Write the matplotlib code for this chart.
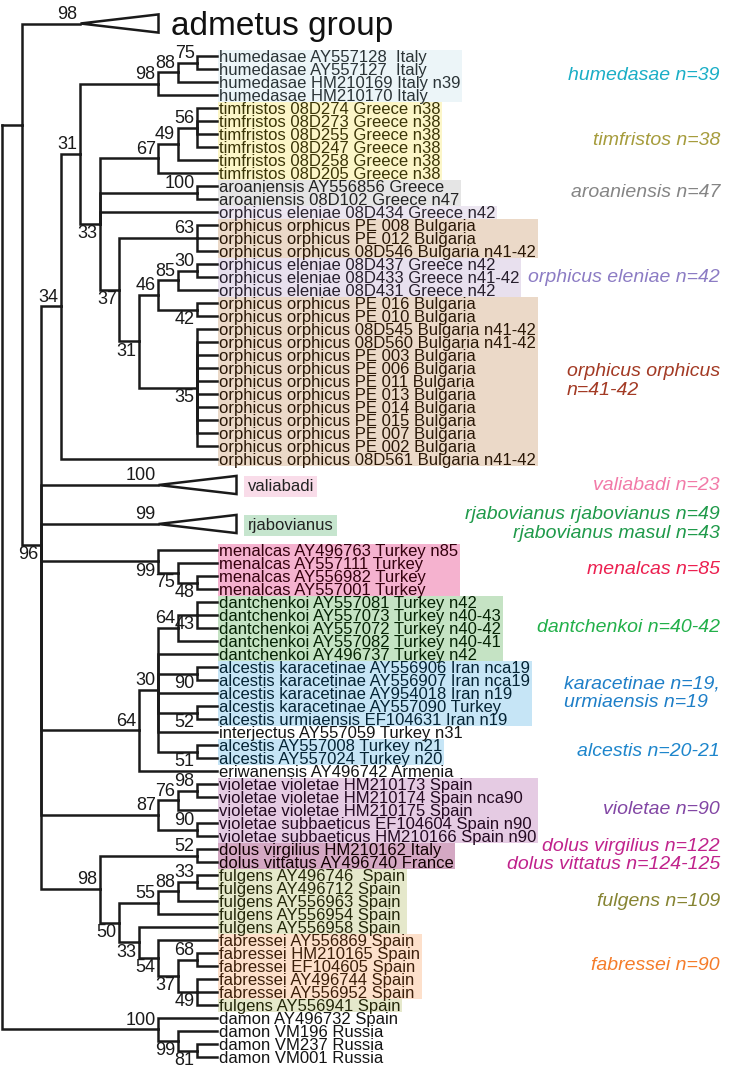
import re
import numpy as np
import matplotlib.pyplot as plt
import matplotlib.colors as mcolors
from matplotlib.patches import Rectangle, Polygon

plt.rcParams['font.family'] = ['Liberation Sans', 'DejaVu Sans']

# ---- data -------------------------------------------------------------
tips = [
    "admetus group",
    "humedasae AY557128  Italy", "humedasae AY557127  Italy",
    "humedasae HM210169 Italy n39", "humedasae HM210170 Italy",
    "timfristos 08D274 Greece n38", "timfristos 08D273 Greece n38",
    "timfristos 08D255 Greece n38", "timfristos 08D247 Greece n38",
    "timfristos 08D258 Greece n38", "timfristos 08D205 Greece n38",
    "aroaniensis AY556856 Greece", "aroaniensis 08D102 Greece n47",
    "orphicus eleniae 08D434 Greece n42",
    "orphicus orphicus PE 008 Bulgaria", "orphicus orphicus PE 012 Bulgaria",
    "orphicus orphicus 08D546 Bulgaria n41-42",
    "orphicus eleniae 08D437 Greece n42", "orphicus eleniae 08D433 Greece n41-42",
    "orphicus eleniae 08D431 Greece n42",
    "orphicus orphicus PE 016 Bulgaria", "orphicus orphicus PE 010 Bulgaria",
    "orphicus orphicus 08D545 Bulgaria n41-42", "orphicus orphicus 08D560 Bulgaria n41-42",
    "orphicus orphicus PE 003 Bulgaria", "orphicus orphicus PE 006 Bulgaria",
    "orphicus orphicus PE 011 Bulgaria", "orphicus orphicus PE 013 Bulgaria",
    "orphicus orphicus PE 014 Bulgaria", "orphicus orphicus PE 015 Bulgaria",
    "orphicus orphicus PE 007 Bulgaria", "orphicus orphicus PE 002 Bulgaria",
    "orphicus orphicus 08D561 Bulgaria n41-42",
    "valiabadi", "rjabovianus",
    "menalcas AY496763 Turkey n85", "menalcas AY557111 Turkey",
    "menalcas AY556982 Turkey", "menalcas AY557001 Turkey",
    "dantchenkoi AY557081 Turkey n42", "dantchenkoi AY557073 Turkey n40-43",
    "dantchenkoi AY557072 Turkey n40-42", "dantchenkoi AY557082 Turkey n40-41",
    "dantchenkoi AY496737 Turkey n42",
    "alcestis karacetinae AY556906 Iran nca19", "alcestis karacetinae AY556907 Iran nca19",
    "alcestis karacetinae AY954018 Iran n19", "alcestis karacetinae AY557090 Turkey",
    "alcestis urmiaensis EF104631 Iran n19",
    "interjectus AY557059 Turkey n31",
    "alcestis AY557008 Turkey n21", "alcestis AY557024 Turkey n20",
    "eriwanensis AY496742 Armenia",
    "violetae violetae HM210173 Spain", "violetae violetae HM210174 Spain nca90",
    "violetae violetae HM210175 Spain", "violetae subbaeticus EF104604 Spain n90",
    "violetae subbaeticus HM210166 Spain n90",
    "dolus virgilius HM210162 Italy", "dolus vittatus AY496740 France",
    "fulgens AY496746  Spain", "fulgens AY496712 Spain", "fulgens AY556963 Spain",
    "fulgens AY556954 Spain", "fulgens AY556958 Spain",
    "fabressei AY556869 Spain", "fabressei HM210165 Spain", "fabressei EF104605 Spain",
    "fabressei AY496744 Spain", "fabressei AY556952 Spain",
    "fulgens AY556941 Spain",
    "damon AY496732 Spain", "damon VM196 Russia", "damon VM237 Russia", "damon VM001 Russia",
]

# tree pieces, numbers after ")" are bootstrap supports, bare numbers are tip indexes
humedasae = "(((1,2)75,3)88,4)98"
timfristos = "(((5,6,7,8)56,9)49,10)67"
orphicus = ("((14,15,16)63,((((17,18)30,19)85,(20,21)42)46,"
            "(22,23,24,25,26,27,28,29,30,31)35)31)37")
greek = "(" + timfristos + ",(11,12)100,13," + orphicus + ")33"
clade34 = "((" + humedasae + "," + greek + ")31,32)34"
menalcas = "(35,(36,(37,38)48)75)99"
alcestis = "((((39,40,41)43,42)64,43,(44,45)90,46,(47,48)52,49,(50,51)51)30,52)64"
violetae = "(((53,54)98,55)76,(56,57)90)87"
spanish = "((58,59)52,((((60,61)33,62)88,63)55,(64,(65,((66,67)68,(68,69,70)49)37)54)33)50)98"
damon = "(71,(72,(73,74)81)99)100"
newick = ("((0,(" + ",".join([clade34, "33", "34", menalcas, alcestis, violetae, spanish])
          + ")96)," + damon + ")")

# collapsed clades: tip index -> support, depth of clade, rows taken
collapsed = {0: (98, 7, 4), 33: (100, 3, 3), 34: (99, 3, 3)}

# two deep nodes are drawn off-centre in the figure: (support, first tip) -> tip row they join at
node_row = {('', 0): 9.3, ('96', 1): 41.6}

# supports printed under the branch: (support, first tip of node)
below = {(33, 5), (37, 14), (31, 17), (42, 20), (35, 22), (96, 1), (99, 35), (75, 36),
         (48, 37), (43, 39), (90, 44), (52, 47), (51, 50), (50, 60), (33, 64), (54, 65),
         (37, 66), (49, 68), (99, 72), (81, 73)}

# shaded tip groups: first tip, last tip, colour
shades = [(1, 4, '#ecf5f8'), (5, 10, '#fcf6c8'), (11, 12, '#e5e5e5'), (13, 13, '#ece6f1'),
          (14, 16, '#ebd9c8'), (17, 19, '#e8e0ee'), (20, 32, '#ebd9c8'),
          (35, 38, '#f5b2cf'), (39, 43, '#c5e3c4'), (44, 48, '#c6e5f6'), (50, 51, '#c6e5f6'),
          (53, 57, '#e5cbe3'), (58, 59, '#d4a8c3'), (60, 64, '#e5e8cb'),
          (65, 69, '#fde0cb'), (70, 70, '#e5e8cb')]
collapsed_box = {33: '#f9dce9', 34: '#c6e5ce'}

# chromosome number notes: text, tips it sits beside, colour
notes = [
    ("humedasae n=39", [1, 4], '#1aaec6'),
    ("timfristos n=38", [5, 10], '#a69c3c'),
    ("aroaniensis n=47", [11, 12], '#858585'),
    ("orphicus eleniae n=42", [17, 19], '#8c7cc4'),
    ("orphicus orphicus\nn=41-42", [20, 32], '#a33a24'),
    ("valiabadi n=23", [33], '#f27aa8'),
    ("rjabovianus rjabovianus n=49\nrjabovianus masul n=43", [34], '#1f9a4a'),
    ("menalcas n=85", [35, 38], '#ec2050'),
    ("dantchenkoi n=40-42", [39, 43], '#22b04a'),
    ("karacetinae n=19,\nurmiaensis n=19", [44, 48], '#1e7fc8'),
    ("alcestis n=20-21", [50, 51], '#1e86cc'),
    ("violetae n=90", [53, 57], '#8246a4'),
    ("dolus virgilius n=122\ndolus vittatus n=124-125", [58, 59], '#c0238c'),
    ("fulgens n=109", [60, 64], '#868432'),
    ("fabressei n=90", [65, 69], '#f57c2a'),
]


# ---- tree -------------------------------------------------------------
def parse(s):
    pos = 0

    def node():
        nonlocal pos
        if s[pos] == '(':
            pos += 1
            kids = [node()]
            while s[pos] == ',':
                pos += 1
                kids.append(node())
            pos += 1
            m = re.match(r'\d*', s[pos:])
            pos += m.end()
            return {'kids': kids, 'support': m.group()}
        m = re.match(r'\d+', s[pos:])
        pos += m.end()
        return {'tip': int(m.group())}

    return node()


tree = parse(newick)
tip_y = {}
row = 0


def layout(n):
    global row
    if 'tip' in n:
        i = n['tip']
        n['first'] = i
        if i in collapsed:
            k = collapsed[i][2]
            n['y'] = row + (k - 1) / 2
            n['h'] = collapsed[i][1]
            row += k
        else:
            n['y'] = row
            n['h'] = 0
            row += 1
        tip_y[i] = n['y']
    else:
        for c in n['kids']:
            layout(c)
        n['first'] = n['kids'][0]['first']
        n['y'] = node_row.get((n['support'], n['first']),
                              (n['kids'][0]['y'] + n['kids'][-1]['y']) / 2)
        n['h'] = 1 + max(c['h'] for c in n['kids'])
    n['x'] = -n['h']


layout(tree)

# pixel layout of the original figure
W, H = 746, 1075
DX, X_TIP = 19.5, 217
DY, Y_FIRST = 13.0, 56

fig = plt.figure(figsize=(W / 100, H / 100), dpi=100)
ax = fig.add_axes([0, 0, 1, 1])
ax.set_xlim(-X_TIP / DX, (W - X_TIP) / DX)
ax.set_ylim(tip_y[1] + (H - Y_FIRST) / DY, tip_y[1] - Y_FIRST / DY)
ax.axis('off')

lc = '#1a1a1a'
lw = 1.8


def support_label(txt, x, y, first):
    if not txt:
        return
    under = (int(txt), first) in below
    ax.annotate(txt, (x, y), xytext=(-2, -1 if under else 0.5), textcoords='offset points',
                ha='right', va='top' if under else 'bottom', fontsize=13, color=lc)


def draw(n):
    for c in n['kids']:
        ax.plot([n['x'], n['x'], c['x']], [n['y'], c['y'], c['y']], color=lc, lw=lw,
                solid_joinstyle='miter', solid_capstyle='projecting', zorder=3)
        if 'kids' in c:
            draw(c)
            support_label(c['support'], c['x'], c['y'], c['first'])
        elif c['tip'] in collapsed:
            sup, depth, k = collapsed[c['tip']]
            tri = Polygon([(c['x'], c['y']), (c['x'] + 4, c['y'] - 0.7), (c['x'] + 4, c['y'] + 0.7)],
                          closed=True, fc='white', ec=lc, lw=lw, zorder=3)
            ax.add_patch(tri)
            support_label(str(sup), c['x'], c['y'], c['tip'])


draw(tree)

# tip labels
texts = {}
for i, name in enumerate(tips):
    if i in collapsed:
        xt = -collapsed[i][1] + 4
        if i == 0:
            texts[i] = ax.annotate(name, (xt, tip_y[i]), xytext=(9, 0), textcoords='offset points',
                                   fontsize=24, va='center_baseline', color='#111111')
        else:
            texts[i] = ax.annotate(name, (xt, tip_y[i]), xytext=(8, 0), textcoords='offset points',
                                   fontsize=12, va='center_baseline', color='#222222',
                                   bbox=dict(boxstyle='square,pad=0.2', fc=collapsed_box[i], ec='none'))
    else:
        texts[i] = ax.annotate(name, (0, tip_y[i]), xytext=(1.5, 0), textcoords='offset points',
                               fontsize=12, va='center_baseline', color='#141414', zorder=4)

# shaded boxes sized to the labels they hold
fig.canvas.draw()
renderer = fig.canvas.get_renderer()
inv = ax.transData.inverted()
for a, b, col in shades:
    right = max(inv.transform(texts[i].get_window_extent(renderer))[1, 0] for i in range(a, b + 1))
    ax.add_patch(Rectangle((0.05, tip_y[a] - 0.5), right + 0.08 - 0.05, b - a + 1,
                           fc=col, ec='none', zorder=1))
    rgb = np.clip(np.array(mcolors.to_rgb(col)) - 0.76, 0, 1)
    for i in range(a, b + 1):
        texts[i].set_color(rgb)

# chromosome notes on the right
NOTE_X = (720 - X_TIP) / DX
for txt, grp, col in notes:
    y = np.mean([tip_y[i] for i in range(grp[0], grp[-1] + 1)])
    right_lines = 'rjab' in txt or 'dolus' in txt
    ax.text(NOTE_X, y, txt, ha='right', va='center',
            multialignment='right' if right_lines else 'left',
            fontsize=14, style='italic', color=col, linespacing=1.1)

fig.savefig('out.png', dpi=100)
